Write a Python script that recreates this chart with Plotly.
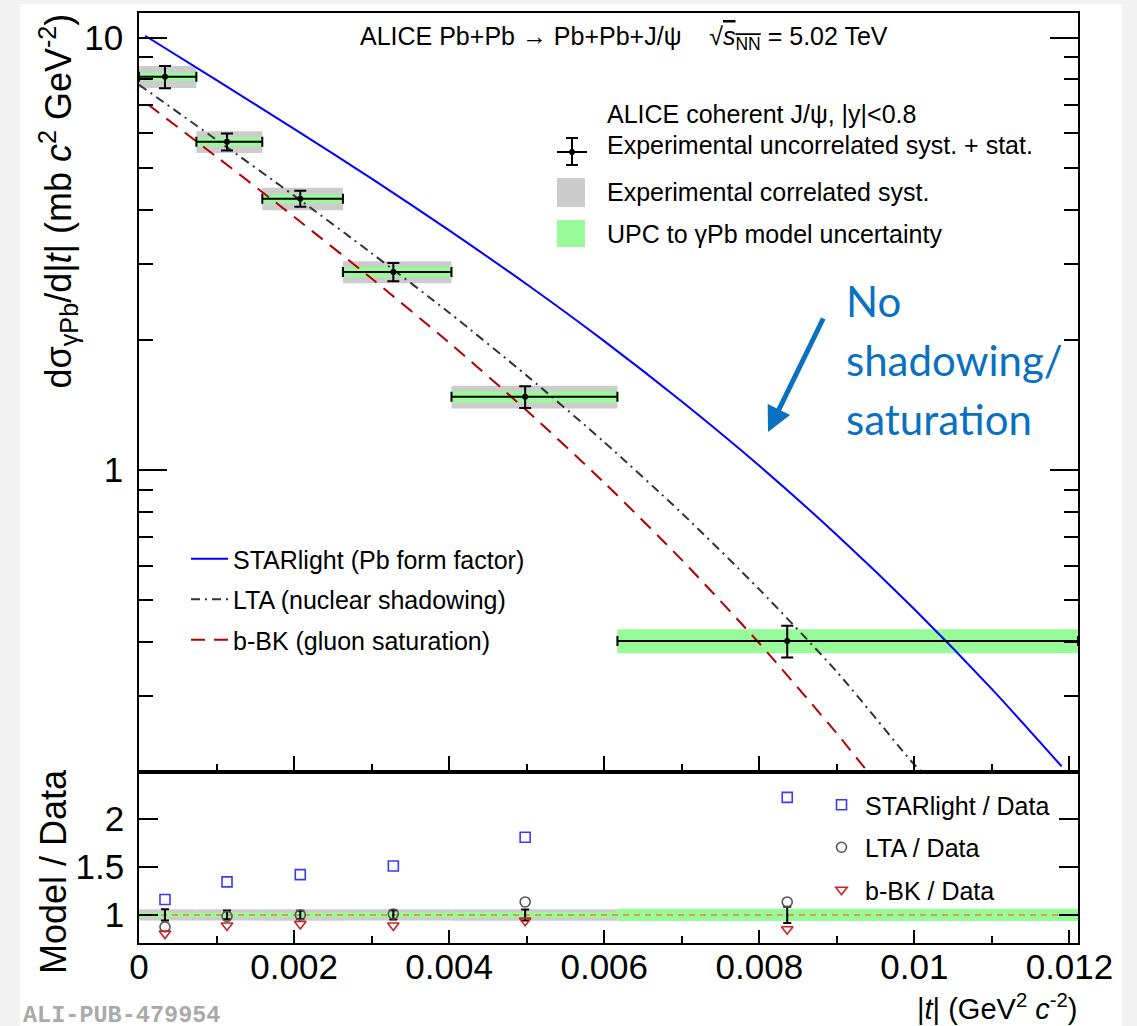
import math
import plotly.graph_objects as go

# ---------------- data ----------------
t_edges = [0.0, 0.00074, 0.00159, 0.00263, 0.00403, 0.00617, 0.01211]
t_center = [0.000335, 0.001135, 0.00208, 0.00328, 0.00498, 0.00836]
xsec = [8.12, 5.74, 4.24, 2.87, 1.476, 0.402]
err_uncorr = [0.48, 0.26, 0.18, 0.14, 0.085, 0.034]
rel_corr = [0.058, 0.058, 0.060, 0.058, 0.060, 0.058]
rel_model = [0.022, 0.024, 0.024, 0.027, 0.030, 0.064]

starlight_t = [0.00008, 0.001, 0.002, 0.003, 0.004, 0.005, 0.006, 0.007, 0.008, 0.009, 0.010, 0.011, 0.0119]
starlight_y = [10.1, 7.97, 6.15, 4.72, 3.58, 2.687, 1.985, 1.439, 1.022, 0.707, 0.476, 0.311, 0.206]
lta_t = [0.0, 0.001, 0.002, 0.003, 0.004, 0.005, 0.006, 0.007, 0.008, 0.009, 0.010, 0.0101]
lta_y = [7.78, 5.80, 4.31, 3.17, 2.31, 1.652, 1.159, 0.794, 0.529, 0.341, 0.208, 0.2]
bbk_t = [0.000116, 0.001, 0.002, 0.003, 0.004, 0.005, 0.006, 0.007, 0.008, 0.009, 0.0094]
bbk_y = [7.0, 5.30, 3.85, 2.77, 1.968, 1.372, 0.934, 0.619, 0.397, 0.2455, 0.2]

ratio_starlight = [1.16, 1.344, 1.42, 1.51, 1.81, 2.225]
ratio_lta = [0.875, 0.985, 1.0, 1.01, 1.135, 1.135]
ratio_bbk = [0.805, 0.89, 0.906, 0.89, 0.94, 0.85]

x_ticks = [0.0, 0.002, 0.004, 0.006, 0.008, 0.010, 0.012]
x_tick_labels = ["0", "0.002", "0.004", "0.006", "0.008", "0.01", "0.012"]
x_minor = [0.001, 0.003, 0.005, 0.007, 0.009, 0.011]
y_ticks = [1, 10]
y_tick_labels = ["1", "10"]
y_minor = [0.2, 0.3, 0.4, 0.5, 0.6, 0.7, 0.8, 0.9, 2, 3, 4, 5, 6, 7, 8, 9]
r_ticks = [1, 1.5, 2]
r_tick_labels = ["1", "1.5", "2"]
x_range = [0.0, 0.01211]
y_range = [0.2, 11.4]
r_range = [0.707, 2.49]

# ---------------- style ----------------
FONT = "Liberation Sans, Arial, Helvetica, sans-serif"
GRAY = "#cccccc"
GREEN = "#99fa99"
BLUE = "#0000ff"
RED = "#b30000"
ANNOT_BLUE = "#0a70c0"

W, H = 1137, 1026
ML, MR, MT, MB = 139, 59, 13, 83
PW, PH = W - ML - MR, H - MT - MB
SPLIT = 772  # pixel y of the panel boundary


def px2x(px):
    return (px - ML) / PW


def px2y(py):
    return (H - MB - py) / PH


fig = go.Figure()

n = len(t_center)
# ---- main panel boxes ----
for rel, col in ((rel_corr, GRAY), (rel_model, GREEN)):
    for i in range(n):
        lo, hi = t_edges[i], t_edges[i + 1]
        ylo, yhi = xsec[i] * (1 - rel[i]), xsec[i] * (1 + rel[i])
        fig.add_trace(go.Scatter(x=[lo, hi, hi, lo, lo], y=[ylo, ylo, yhi, yhi, ylo],
                                 mode="lines", fill="toself", fillcolor=col, line=dict(width=0),
                                 hoverinfo="skip", showlegend=False, xaxis="x", yaxis="y"))

# ---- model curves ----
fig.add_trace(go.Scatter(x=starlight_t, y=starlight_y, mode="lines",
                         line=dict(color=BLUE, width=2, shape="spline", smoothing=0.7, simplify=False),
                         name="STARlight (Pb form factor)", legend="legend2", legendgroup="c1", xaxis="x", yaxis="y"))
fig.add_trace(go.Scatter(x=lta_t, y=lta_y, mode="lines",
                         line=dict(color="#333333", width=2, dash="9px,5px,2px,5px", shape="spline", smoothing=0.7, simplify=False),
                         name="LTA (nuclear shadowing)", legend="legend2", legendgroup="c2", xaxis="x", yaxis="y"))
fig.add_trace(go.Scatter(x=bbk_t, y=bbk_y, mode="lines",
                         line=dict(color=RED, width=2, dash="14px,9px", shape="spline", smoothing=0.7, simplify=False),
                         name="b-BK (gluon saturation)", legend="legend2", legendgroup="c3", xaxis="x", yaxis="y"))

# ---- data points ----
fig.add_trace(go.Scatter(
    x=t_center, y=xsec, mode="markers", marker=dict(color="black", size=6),
    error_x=dict(type="data", symmetric=False,
                 array=[t_edges[i + 1] - t_center[i] for i in range(n)],
                 arrayminus=[t_center[i] - t_edges[i] for i in range(n)],
                 color="black", thickness=2, width=5),
    error_y=dict(type="data", array=err_uncorr, color="black", thickness=2, width=6),
    showlegend=False, xaxis="x", yaxis="y"))

# ---- ratio panel ----
for rel, col in ((rel_corr, GRAY), (rel_model, GREEN)):
    for i in range(n):
        lo, hi = t_edges[i], t_edges[i + 1]
        fig.add_trace(go.Scatter(x=[lo, hi, hi, lo, lo], y=[1 - rel[i], 1 - rel[i], 1 + rel[i], 1 + rel[i], 1 - rel[i]],
                                 mode="lines", fill="toself", fillcolor=col, line=dict(width=0),
                                 hoverinfo="skip", showlegend=False, xaxis="x2", yaxis="y2"))
fig.add_trace(go.Scatter(x=x_range, y=[1, 1], mode="lines", line=dict(color="#d2a04c", width=2, dash="6px,5px"),
                         showlegend=False, hoverinfo="skip", xaxis="x2", yaxis="y2"))
fig.add_trace(go.Scatter(x=t_center, y=[v / v for v in xsec], mode="markers", marker=dict(color="black", size=2),
                         error_y=dict(type="data", array=[e / v for e, v in zip(err_uncorr, xsec)], color="black", thickness=2, width=4),
                         showlegend=False, xaxis="x2", yaxis="y2"))
fig.add_trace(go.Scatter(x=t_center, y=ratio_starlight, mode="markers", name="STARlight / Data",
                         marker=dict(symbol="square-open", size=10, color="#3a3aff", line=dict(width=1.6)),
                         legend="legend3", legendgroup="r1", xaxis="x2", yaxis="y2"))
fig.add_trace(go.Scatter(x=t_center, y=ratio_lta, mode="markers", name="LTA / Data",
                         marker=dict(symbol="circle-open", size=10, color="#555555", line=dict(width=1.6)),
                         legend="legend3", legendgroup="r2", xaxis="x2", yaxis="y2"))
fig.add_trace(go.Scatter(x=t_center, y=ratio_bbk, mode="markers", name="b-BK / Data",
                         marker=dict(symbol="triangle-down-open", size=10, color="#cc2222", line=dict(width=1.6)),
                         legend="legend3", legendgroup="r3", xaxis="x2", yaxis="y2"))

# ---------------- layout ----------------
split_dom = (H - MB - SPLIT) / PH
axis_common = dict(showline=True, linecolor="black", linewidth=1.5, showgrid=False, zeroline=False,
                   ticks="inside", tickcolor="black", tickwidth=1.5)
tickfont = dict(family=FONT, size=35, color="black")

fig.update_layout(
    width=W, height=H, margin=dict(l=ML, r=MR, t=MT, b=MB),
    paper_bgcolor="#f2f2f2", plot_bgcolor="white", showlegend=True,
    xaxis=dict(domain=[0, 1], anchor="y", range=x_range, tickvals=x_ticks, ticklen=16, mirror=True,
               showticklabels=False,
               minor=dict(tickvals=x_minor, ticks="inside", ticklen=8, tickwidth=1.5, tickcolor="black"),
               **axis_common),
    yaxis=dict(domain=[split_dom, 1], anchor="x", type="log",
               range=[math.log10(y_range[0]), math.log10(y_range[1])],
               tickvals=y_ticks, ticktext=y_tick_labels, ticklen=28, mirror="ticks",
               tickfont=tickfont, ticklabelstandoff=7,
               minor=dict(tickvals=y_minor, ticks="inside", ticklen=14, tickwidth=1.5, tickcolor="black"),
               **axis_common),
    xaxis2=dict(domain=[0, 1], anchor="y2", range=x_range, tickvals=x_ticks, ticktext=x_tick_labels,
                ticklen=13, mirror=True, tickfont=tickfont, ticklabelstandoff=-8,
                minor=dict(tickvals=x_minor, ticks="inside", ticklen=7, tickwidth=1.5, tickcolor="black"),
                **axis_common),
    yaxis2=dict(domain=[0, split_dom], anchor="x2", range=r_range, tickvals=r_ticks, ticktext=r_tick_labels,
                ticklen=19, mirror="ticks", tickfont=tickfont, ticklabelstandoff=6, **axis_common),
    legend2=dict(x=px2x(186), y=px2y(536), xanchor="left", yanchor="top", bgcolor="rgba(0,0,0,0)",
                 font=dict(family=FONT, size=25, color="black"), tracegroupgap=5, itemwidth=37,
                 traceorder="grouped"),
    legend3=dict(x=px2x(818), y=px2y(782), xanchor="left", yanchor="top", bgcolor="rgba(0,0,0,0)",
                 font=dict(family=FONT, size=25, color="black"), tracegroupgap=7, itemwidth=37,
                 traceorder="grouped"),
)

shapes = []
# white page behind the chart (grey slide border around it)
shapes.append(dict(type="rect", xref="paper", yref="paper", x0=px2x(20), x1=px2x(1122), y0=px2y(1026), y1=px2y(4),
                   fillcolor="white", line=dict(width=0), layer="below"))

# manual legend icons (top right)
ex, ey = 572, 152
shapes += [
    dict(type="line", xref="paper", yref="paper", x0=px2x(557), x1=px2x(587), y0=px2y(ey), y1=px2y(ey), line=dict(color="black", width=2)),
    dict(type="line", xref="paper", yref="paper", x0=px2x(ex), x1=px2x(ex), y0=px2y(138), y1=px2y(165), line=dict(color="black", width=2)),
    dict(type="line", xref="paper", yref="paper", x0=px2x(ex - 6), x1=px2x(ex + 6), y0=px2y(138), y1=px2y(138), line=dict(color="black", width=2)),
    dict(type="line", xref="paper", yref="paper", x0=px2x(ex - 6), x1=px2x(ex + 6), y0=px2y(165), y1=px2y(165), line=dict(color="black", width=2)),
    dict(type="circle", xref="paper", yref="paper", x0=px2x(ex - 3), x1=px2x(ex + 3), y0=px2y(ey + 3), y1=px2y(ey - 3), fillcolor="black", line=dict(width=0)),
    dict(type="rect", xref="paper", yref="paper", x0=px2x(557), x1=px2x(585), y0=px2y(207), y1=px2y(178), fillcolor=GRAY, line=dict(width=0)),
    dict(type="rect", xref="paper", yref="paper", x0=px2x(557), x1=px2x(585), y0=px2y(247), y1=px2y(220), fillcolor=GREEN, line=dict(width=0)),
]
fig.update_layout(shapes=shapes)

ann = []
lf = dict(family=FONT, size=25, color="black")
ann.append(dict(xref="paper", yref="paper", x=px2x(358), y=px2y(38), xanchor="left", yanchor="middle", showarrow=False,
                text="ALICE Pb+Pb \u2192 Pb+Pb+J/\u03c8    \u221a<span style=\"text-decoration:overline\"><i>s</i><sub>NN</sub></span> = 5.02 TeV",
                font=lf))
for txt, yc in (("ALICE coherent J/\u03c8, |y|<0.8", 114),
                ("Experimental uncorrelated syst. + stat.", 145),
                ("Experimental correlated syst.", 192),
                ("UPC to \u03b3Pb model uncertainty", 234)):
    ann.append(dict(xref="paper", yref="paper", x=px2x(605), y=px2y(yc), xanchor="left", yanchor="middle",
                    showarrow=False, text=txt, font=lf))
# axis titles
ann.append(dict(xref="paper", yref="paper", x=px2x(58), y=px2y(12), xanchor="center", yanchor="top", textangle=-90,
                showarrow=False, font=dict(family=FONT, size=36, color="black"),
                text="d\u03c3<sub>\u03b3Pb</sub>/d|<i>t</i>| (mb <i>c</i><sup>2</sup> GeV<sup>-2</sup>)"))
ann.append(dict(xref="paper", yref="paper", x=px2x(53), y=px2y(872), xanchor="center", yanchor="middle", textangle=-90,
                showarrow=False, font=dict(family=FONT, size=36, color="black"), text="Model / Data"))
ann.append(dict(xref="paper", yref="paper", x=px2x(1079), y=px2y(1007), xanchor="right", yanchor="middle",
                showarrow=False, font=dict(family=FONT, size=29, color="black"),
                text="|<i>t</i>| (GeV<sup>2</sup> <i>c</i><sup>-2</sup>)"))
# ALICE id
ann.append(dict(xref="paper", yref="paper", x=px2x(21), y=px2y(1015), xanchor="left", yanchor="middle",
                showarrow=False, font=dict(family="Liberation Mono, DejaVu Sans Mono, monospace", size=23.5, color="#aaaaaa"),
                text="<b>ALI-PUB-479954</b>"))
# blue comment + arrow
for txt, yc in (("No", 301), ("shadowing/", 360), ("saturation", 419)):
    ann.append(dict(xref="paper", yref="paper", x=px2x(844), y=px2y(yc), xanchor="left", yanchor="middle", align="left",
                    showarrow=False, font=dict(family="Lato, Open Sans, sans-serif", size=42, color=ANNOT_BLUE),
                    text=txt))
ann.append(dict(xref="paper", yref="paper", x=px2x(768), y=px2y(432), ax=824 - 768, ay=317 - 432, text="",
                showarrow=True, arrowhead=2, arrowsize=1.0, arrowwidth=5, arrowcolor=ANNOT_BLUE, standoff=0))
fig.update_layout(annotations=ann)

fig.write_html("out.html")
